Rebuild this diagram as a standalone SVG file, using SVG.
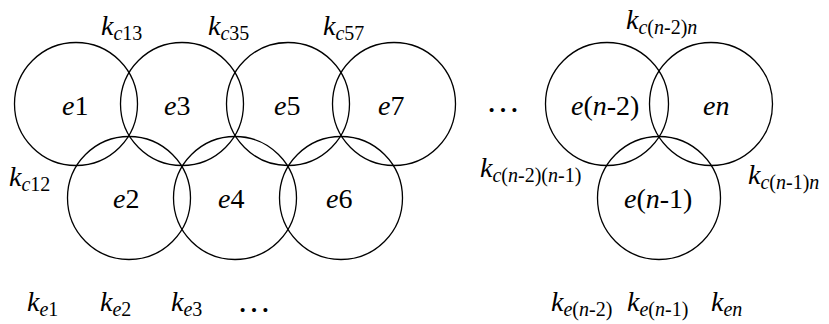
<svg xmlns="http://www.w3.org/2000/svg" width="829" height="324" viewBox="0 0 829 324" font-family="Liberation Serif, Times New Roman, serif" font-size="28">
<style>
.c{fill:none;stroke:#000;stroke-width:1.3}
.i{font-style:italic}
.s{font-size:20px}
</style>
<rect width="829" height="324" fill="#fff"/>
<g id="connectors"></g>
<g id="e1"><circle class="c" cx="76" cy="104" r="61.5"/><text x="62" y="115"><tspan class="i">e</tspan>1</text></g>
<g id="e3"><circle class="c" cx="182" cy="104" r="61.5"/><text x="164" y="115"><tspan class="i">e</tspan>3</text></g>
<g id="e5"><circle class="c" cx="288" cy="104" r="61.5"/><text x="274" y="115"><tspan class="i">e</tspan>5</text></g>
<g id="e7"><circle class="c" cx="394" cy="104" r="61.5"/><text x="378" y="115"><tspan class="i">e</tspan>7</text></g>
<g id="e2"><circle class="c" cx="129" cy="198" r="61.5"/><text x="113" y="208"><tspan class="i">e</tspan>2</text></g>
<g id="e4"><circle class="c" cx="235" cy="198" r="61.5"/><text x="218" y="208"><tspan class="i">e</tspan>4</text></g>
<g id="e6"><circle class="c" cx="341" cy="198" r="61.5"/><text x="326" y="208"><tspan class="i">e</tspan>6</text></g>
<g id="en-2"><circle class="c" cx="607" cy="104" r="61.5"/><text x="571" y="115"><tspan class="i">e</tspan>(<tspan class="i">n</tspan>-2)</text></g>
<g id="en"><circle class="c" cx="711" cy="104" r="61.5"/><text x="703" y="115" class="i">en</text></g>
<g id="en-1"><circle class="c" cx="659" cy="198" r="61.5"/><text x="624" y="208"><tspan class="i">e</tspan>(<tspan class="i">n</tspan>-1)</text></g>
<g id="labels">
<text x="101" y="35"><tspan class="i">k</tspan><tspan class="s" dy="5"><tspan class="i">c</tspan>13</tspan></text>
<text x="208" y="35"><tspan class="i">k</tspan><tspan class="s" dy="5"><tspan class="i">c</tspan>35</tspan></text>
<text x="323" y="35"><tspan class="i">k</tspan><tspan class="s" dy="5"><tspan class="i">c</tspan>57</tspan></text>
<text x="9" y="186"><tspan class="i">k</tspan><tspan class="s" dy="5"><tspan class="i">c</tspan>12</tspan></text>
<text x="626" y="29"><tspan class="i">k</tspan><tspan class="s" dy="5"><tspan class="i">c</tspan>(<tspan class="i">n</tspan>-2)<tspan class="i">n</tspan></tspan></text>
<text x="480" y="177"><tspan class="i">k</tspan><tspan class="s" dy="5"><tspan class="i">c</tspan>(<tspan class="i">n</tspan>-2)(<tspan class="i">n</tspan>-1)</tspan></text>
<text x="748" y="184"><tspan class="i">k</tspan><tspan class="s" dy="5"><tspan class="i">c</tspan>(<tspan class="i">n</tspan>-1)<tspan class="i">n</tspan></tspan></text>
<text x="27" y="311"><tspan class="i">k</tspan><tspan class="s i" dy="5">e</tspan><tspan class="s">1</tspan></text>
<text x="100" y="311"><tspan class="i">k</tspan><tspan class="s i" dy="5">e</tspan><tspan class="s">2</tspan></text>
<text x="171" y="311"><tspan class="i">k</tspan><tspan class="s i" dy="5">e</tspan><tspan class="s">3</tspan></text>
<text x="237" y="312" font-size="34">…</text>
<text x="486" y="112" font-size="34">…</text>
<text x="551" y="311"><tspan class="i">k</tspan><tspan class="s" dy="5"><tspan class="i">e</tspan>(<tspan class="i">n</tspan>-2)</tspan></text>
<text x="627" y="311"><tspan class="i">k</tspan><tspan class="s" dy="5"><tspan class="i">e</tspan>(<tspan class="i">n</tspan>-1)</tspan></text>
<text x="711" y="311"><tspan class="i">k</tspan><tspan class="s i" dy="5">en</tspan></text>
</g>
</svg>
